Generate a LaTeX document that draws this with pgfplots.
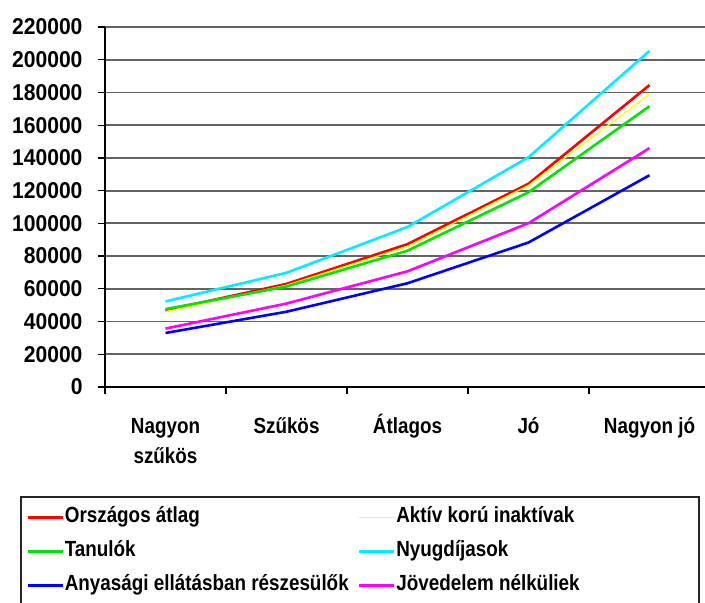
\documentclass[border=0pt]{standalone}
\usepackage{fontspec}
\setmainfont{Liberation Sans}[FakeStretch=0.86]
\newfontfamily\tickfont{Liberation Sans}[FakeStretch=0.92]
\usepackage{pgfplots}
\pgfplotsset{compat=1.18}
\definecolor{cRed}{RGB}{255,0,0}
\definecolor{cYel}{RGB}{255,255,0}
\definecolor{cGrn}{RGB}{0,230,0}
\definecolor{cCya}{RGB}{0,238,255}
\definecolor{cBlu}{RGB}{0,0,255}
\definecolor{cMag}{RGB}{255,0,255}
\definecolor{cGrid}{RGB}{100,100,100}
\newcommand{\twoline}[2]{\begin{tabular}[t]{@{}c@{}}#1\\[5bp]#2\end{tabular}}
\begin{document}
\begin{tikzpicture}
\begin{axis}[
  at={(105bp,216bp)}, anchor=south west,
  width=605bp, height=360bp, scale only axis,
  xmin=-0.5, xmax=4.5, ymin=0, ymax=220000,
  axis x line*=bottom, axis y line*=left,
  axis line style={line width=1.5bp, black},
  scaled y ticks=false,
  ytick={0,20000,40000,60000,80000,100000,120000,140000,160000,180000,200000,220000},
  yticklabels={0,20000,40000,60000,80000,100000,120000,140000,160000,180000,200000,220000},
  xtick={0,1,2,3,4},
  xticklabels={\twoline{Nagyon}{szűkös},Szűkös,Átlagos,Jó,Nagyon jó},
  minor xtick={-0.5,0.5,1.5,2.5,3.5},
  major x tick style={draw=none},
  minor x tick style={line width=1.2bp, black},
  tick align=outside, major tick length=7bp, minor tick length=7bp,
  tick style={line width=1.2bp, black},
  ymajorgrids, grid style={line width=1.8bp, cGrid},
  xticklabel style={anchor=base, yshift=-39bp, font=\fontsize{22}{26}\selectfont\bfseries},
  yticklabel style={xshift=-12bp, font=\tickfont\fontsize{23}{27}\selectfont\bfseries},
  clip=false,
  legend columns=2,
  legend style={at={(rel axis cs:-0.1305,-0.314)}, anchor=north west,
    draw=none, fill=none, inner sep=0pt,
    font=\fontsize{22}{26}\selectfont\bfseries,
    cells={anchor=west},
    nodes={inner sep=1bp, text height=21.5bp, text depth=10.5bp},
    /tikz/every even column/.append style={column sep=8bp}},
  legend image code/.code={\draw[#1] (0bp,0bp) -- (35bp,0bp);},
]
\addplot[cRed, line width=2.6bp] coordinates {(0,46800) (1,63000) (2,87300) (3,124200) (4,184500)};
\addlegendentry{Országos átlag}
\addplot[cYel, line width=1.3bp] coordinates {(0,46000) (1,62200) (2,85900) (3,123200) (4,179000)};
\addlegendentry{Aktív korú inaktívak}
\addplot[cGrn, line width=2.6bp] coordinates {(0,47600) (1,61400) (2,83300) (3,119000) (4,171600)};
\addlegendentry{Tanulók}
\addplot[cCya, line width=2.6bp] coordinates {(0,52300) (1,69800) (2,97800) (3,140400) (4,205400)};
\addlegendentry{Nyugdíjasok}
\addplot[cBlu, line width=2.6bp] coordinates {(0,33000) (1,46000) (2,63400) (3,88300) (4,129400)};
\addlegendentry{Anyasági ellátásban részesülők}
\addplot[cMag, line width=2.6bp] coordinates {(0,35700) (1,51000) (2,70700) (3,100100) (4,146000)};
\addlegendentry{Jövedelem nélküliek}
\end{axis}
\draw[line width=1.5bp, black!85] (21bp,106bp) rectangle (699bp,-20bp);
\pgfresetboundingbox
\path[use as bounding box] (0bp,0bp) rectangle (705bp,603bp);
\end{tikzpicture}
\end{document}
